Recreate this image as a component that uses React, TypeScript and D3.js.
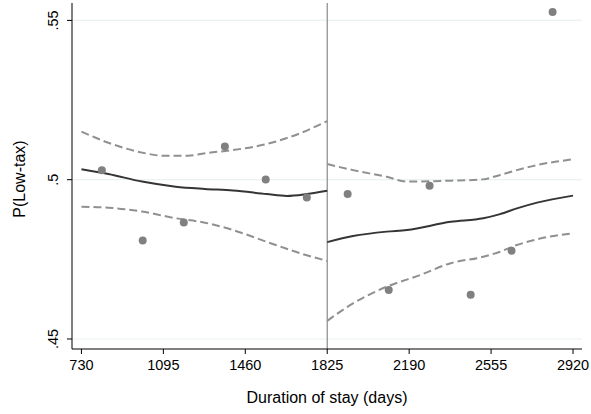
import * as d3 from 'd3';

// binned means (days, share low-tax)
const binDays = [821, 1003, 1186, 1369, 1551, 1734, 1916, 2099, 2281, 2464, 2646, 2829];
const binShare = [0.503, 0.4809, 0.4866, 0.5104, 0.5001, 0.4944, 0.4955, 0.4654, 0.4981, 0.4639, 0.4777, 0.5526];

// local fit below cutoff
const leftDays = [730, 850, 1000, 1150, 1280, 1405, 1555, 1645, 1735, 1825];
const leftFit = [0.5033, 0.5018, 0.4994, 0.4978, 0.4971, 0.4966, 0.4955, 0.4949, 0.4955, 0.4965];
const leftCiDays = [730, 850, 1000, 1100, 1205, 1280, 1405, 1555, 1705, 1825];
const leftUpper = [0.5151, 0.5116, 0.5085, 0.5075, 0.5075, 0.5083, 0.5093, 0.5112, 0.5146, 0.5184];
const leftLowDays = [730, 850, 1000, 1150, 1280, 1405, 1555, 1705, 1825];
const leftLower = [0.4915, 0.4912, 0.49, 0.4879, 0.4865, 0.4842, 0.4805, 0.4769, 0.4745];

// local fit above cutoff
const rightDays = [1825, 1940, 2090, 2180, 2375, 2520, 2595, 2670, 2760, 2920];
const rightFit = [0.4804, 0.4823, 0.4837, 0.4842, 0.4868, 0.4879, 0.4892, 0.491, 0.4928, 0.495];
const rightUpper = [0.5049, 0.503, 0.5009, 0.4994, 0.4997, 0.5001, 0.5015, 0.503, 0.5046, 0.5064];
const rightLowDays = [1825, 1940, 2090, 2240, 2375, 2520, 2595, 2670, 2760, 2920];
const rightLower = [0.4557, 0.4612, 0.4664, 0.4701, 0.4738, 0.4758, 0.4774, 0.4795, 0.4813, 0.4832];

const xTicks = [730, 1095, 1460, 1825, 2190, 2555, 2920];
const yTicks = [0.45, 0.5, 0.55];
const yTickLabels = ['.45', '.5', '.55'];
const cutoff = 1825;

const W = 591;
const H = 414;
const font = '"Liberation Sans", Arial, sans-serif';

export default function App() {
  const left = 72;
  const right = 582;
  const top = 3;
  const bottom = 349;

  const x = d3.scaleLinear().domain([688, 2960]).range([left, right]);
  const y = d3.scaleLinear().domain([0.44686, 0.55546]).range([bottom, top]);

  const line = d3
    .line<[number, number]>()
    .x(d => x(d[0]))
    .y(d => y(d[1]))
    .curve(d3.curveMonotoneX);

  const zip = (a: number[], b: number[]) => a.map((v, i) => [v, b[i]] as [number, number]);

  const dashed = [
    zip(leftCiDays, leftUpper),
    zip(leftLowDays, leftLower),
    zip(rightDays, rightUpper),
    zip(rightLowDays, rightLower),
  ];
  const solid = [zip(leftDays, leftFit), zip(rightDays, rightFit)];

  return (
    <svg
      width={W}
      height={H}
      style={{ position: 'absolute', left: 0, top: 0, background: '#fff' }}
      fontFamily={font}
    >
      <rect width={W} height={H} fill="#fff" />

      {/* gridlines */}
      {yTicks.map(t => (
        <line key={t} x1={left} x2={right} y1={y(t)} y2={y(t)} stroke="#eaf2f3" strokeWidth={1.2} />
      ))}

      {/* cutoff */}
      <line x1={x(cutoff)} x2={x(cutoff)} y1={top} y2={bottom} stroke="#8a8a8a" strokeWidth={1.2} />

      {/* confidence bands */}
      {dashed.map((d, i) => (
        <path
          key={i}
          d={line(d) || ''}
          fill="none"
          stroke="#909090"
          strokeWidth={2}
          strokeDasharray="8,4"
        />
      ))}

      {/* fitted lines */}
      {solid.map((d, i) => (
        <path key={i} d={line(d) || ''} fill="none" stroke="#353535" strokeWidth={2} />
      ))}

      {/* bin means */}
      {binDays.map((d, i) => (
        <circle key={d} cx={x(d)} cy={y(binShare[i])} r={4} fill="#808080" />
      ))}

      {/* y axis */}
      <line x1={left} x2={left} y1={top} y2={bottom} stroke="#000" strokeWidth={1} />
      {yTicks.map((t, i) => (
        <g key={t}>
          <line x1={left - 5} x2={left} y1={y(t)} y2={y(t)} stroke="#000" />
          <text
            transform={`translate(${left - 14},${y(t)}) rotate(-90)`}
            textAnchor="middle"
            fontSize={14.5}
            fill="#000"
          >
            {yTickLabels[i]}
          </text>
        </g>
      ))}
      <text
        transform={`translate(25,${(top + bottom) / 2 + 3}) rotate(-90)`}
        textAnchor="middle"
        fontSize={16}
        fill="#000"
      >
        P(Low-tax)
      </text>

      {/* x axis */}
      <line x1={left} x2={right} y1={bottom} y2={bottom} stroke="#000" strokeWidth={1} />
      {xTicks.map(t => (
        <g key={t}>
          <line x1={x(t)} x2={x(t)} y1={bottom} y2={bottom + 5} stroke="#000" />
          <text x={x(t)} y={370} textAnchor="middle" fontSize={14.5} fill="#000">
            {t}
          </text>
        </g>
      ))}
      <text x={(left + right) / 2} y={403} textAnchor="middle" fontSize={16} fill="#000">
        Duration of stay (days)
      </text>
    </svg>
  );
}
